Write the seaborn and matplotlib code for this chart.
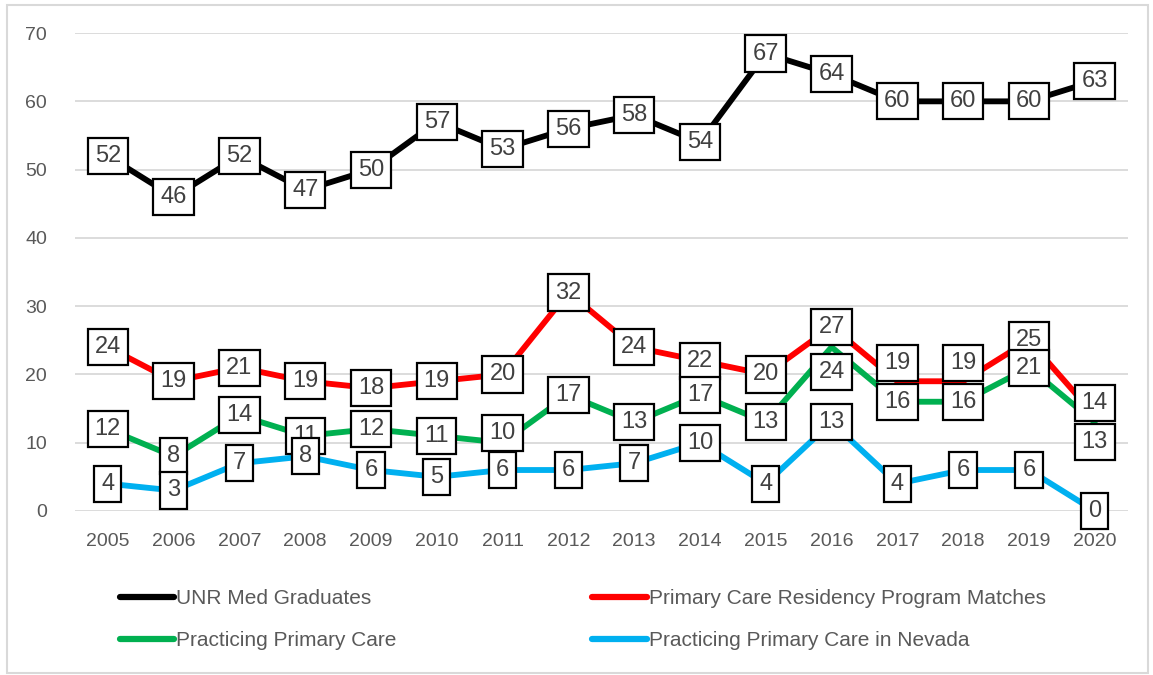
import matplotlib
matplotlib.use("Agg")
import matplotlib.pyplot as plt
import seaborn as sns
import pandas as pd

years = list(range(2005, 2021))
graduates = [52, 46, 52, 47, 50, 57, 53, 56, 58, 54, 67, 64, 60, 60, 60, 63]
residency = [24, 19, 21, 19, 18, 19, 20, 32, 24, 22, 20, 27, 19, 19, 25, 14]
practicing = [12, 8, 14, 11, 12, 11, 10, 17, 13, 17, 13, 24, 16, 16, 21, 13]
nevada = [4, 3, 7, 8, 6, 5, 6, 6, 7, 10, 4, 13, 4, 6, 6, 0]

series_names = ["UNR Med Graduates", "Primary Care Residency Program Matches",
                "Practicing Primary Care", "Practicing Primary Care in Nevada"]
series_values = [graduates, residency, practicing, nevada]
colors = ["#000000", "#FF0000", "#00B050", "#00B0F0"]

# label nudges (points) where Excel moved labels to avoid overlap
nudges = {
    ("Primary Care Residency Program Matches", 2017): 13,
    ("Primary Care Residency Program Matches", 2018): 13,
    ("Primary Care Residency Program Matches", 2020): 9,
    ("Practicing Primary Care", 2016): -18,
    ("Practicing Primary Care", 2011): 7,
    ("Practicing Primary Care", 2020): -14,
}

rows = []
for name, vals in zip(series_names, series_values):
    for i, (y, v) in enumerate(zip(years, vals)):
        rows.append({"idx": i, "year": y, "series": name, "value": v})
df = pd.DataFrame(rows)

sns.set_style("white")
plt.rcParams["font.family"] = ["Liberation Sans", "DejaVu Sans"]

fig = plt.figure(figsize=(11.53, 6.75), dpi=100)
ax = fig.add_axes([0.065, 0.243, 0.913, 0.708])

sns.lineplot(data=df, x="idx", y="value", hue="series", hue_order=series_names,
             palette=dict(zip(series_names, colors)), linewidth=4.2, ax=ax,
             legend=True, zorder=3)

for name, vals in zip(series_names, series_values):
    for i, (y, v) in enumerate(zip(years, vals)):
        dy = nudges.get((name, y), 0)
        ax.annotate(str(v), (i, v), xytext=(0, dy), textcoords="offset points",
                    ha="center", va="center", fontsize=17, color="#404040",
                    zorder=5, annotation_clip=False,
                    bbox=dict(boxstyle="square,pad=0.3", fc="white", ec="black", lw=1.6))

ax.set_xlim(-0.5, len(years) - 0.5)
ax.set_ylim(0, 70)
ax.set_yticks(range(0, 71, 10))
ax.set_xticks(range(len(years)))
ax.set_xticklabels([str(y) for y in years])
ax.tick_params(axis="both", labelsize=14, labelcolor="#595959", length=0)
ax.tick_params(axis="x", pad=16)
ax.tick_params(axis="y", pad=20)
ax.yaxis.grid(True, color="#D9D9D9", lw=1.3, zorder=0)
ax.set_axisbelow(True)
for s in ax.spines.values():
    s.set_visible(False)
ax.set_xlabel("")
ax.set_ylabel("")

handles, labels = ax.get_legend_handles_labels()
for h in handles:
    h.set_linewidth(4.5)
order = [0, 2, 1, 3]
ax.legend([handles[k] for k in order], [labels[k] for k in order], ncol=2,
          loc="upper left", bbox_to_anchor=(0.025, -0.125), frameon=False,
          fontsize=15, labelcolor="#595959", handlelength=2.6, handletextpad=0.1,
          columnspacing=9.4, labelspacing=1.1)

fig.patches.append(plt.Rectangle((0.006, 0.003), 0.99, 0.99, transform=fig.transFigure,
                                 fill=False, ec="#D9D9D9", lw=1.5))

plt.savefig("out.png", dpi=100)
plt.close()
